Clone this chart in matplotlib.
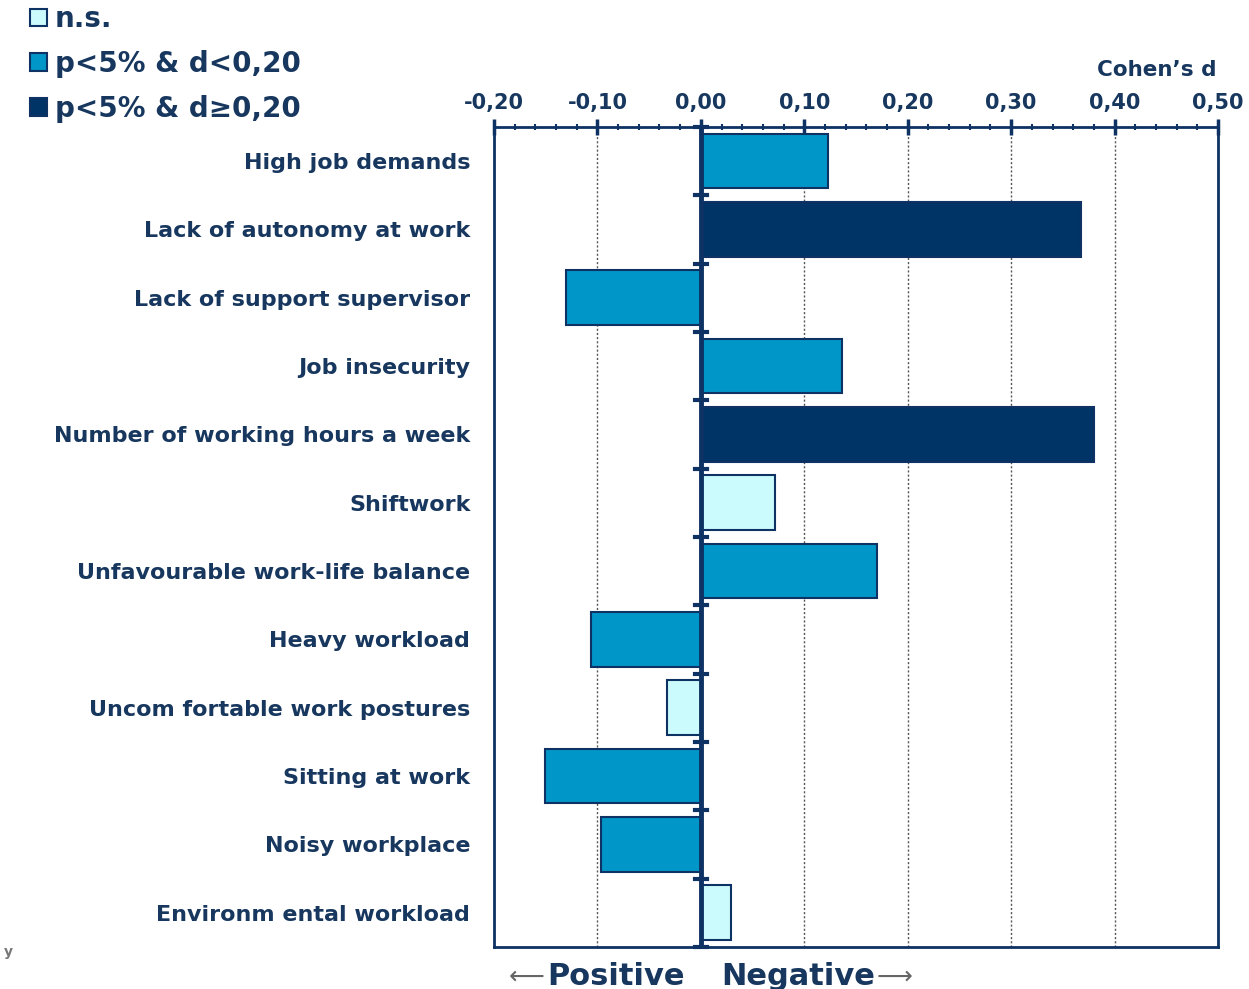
import matplotlib.pyplot as plt
from matplotlib.patches import Patch
from matplotlib.ticker import MultipleLocator, FuncFormatter

# ===== データ =====
categories = [
    "High job demands",
    "Lack of autonomy at work",
    "Lack of support supervisor",
    "Job insecurity",
    "Number of working hours a week",
    "Shiftwork",
    "Unfavourable work-life balance",
    "Heavy workload",
    "Uncom fortable work postures",
    "Sitting at work",
    "Noisy workplace",
    "Environm ental workload",
]
cohens_d = [0.123, 0.368, -0.130, 0.136, 0.380, 0.072, 0.170, -0.106, -0.033, -0.151, -0.097, 0.029]
# 0 = n.s., 1 = p<5% & d<0,20, 2 = p<5% & d>=0,20
significance = [1, 2, 1, 1, 2, 0, 1, 1, 0, 1, 1, 0]
legend_labels = ["n.s.", "p<5% & d<0,20", "p<5% & d≥0,20"]

# ===== 色 =====
navy = "#0d3263"
text_col = "#17375e"
fill_colors = ["#ccfbfd", "#0096c8", "#003366"]

plt.rcParams["font.family"] = ["DejaVu Sans"]
plt.rcParams["font.weight"] = "bold"

fig = plt.figure(figsize=(12.49, 9.89), dpi=100)
ax = fig.add_axes([0.3955, 0.0425, 0.5797, 0.8291])

y = list(range(len(categories)))
colors = [fill_colors[s] for s in significance]
ax.barh(y, cohens_d, height=0.8, color=colors, edgecolor=navy, linewidth=1.5, zorder=3)

ax.set_xlim(-0.20, 0.50)
ax.set_ylim(len(categories) - 0.5, -0.5)

# ===== 軸 =====
ax.xaxis.tick_top()
ax.xaxis.set_major_locator(MultipleLocator(0.1))
ax.xaxis.set_minor_locator(MultipleLocator(0.02))
ax.xaxis.set_major_formatter(FuncFormatter(lambda v, p: f"{v:.2f}".replace(".", ",").replace("-0,00", "0,00")))
ax.tick_params(axis="x", which="major", direction="inout", length=12, width=2.5,
               color=navy, labelsize=15, labelcolor=text_col, pad=4)
ax.tick_params(axis="x", which="minor", direction="inout", length=5, width=1.5, color=navy)
for lab in ax.get_xticklabels():
    lab.set_fontweight("bold")

ax.set_yticks(y)
ax.set_yticklabels(categories, fontsize=16, fontweight="bold", color=text_col)
ax.tick_params(axis="y", length=0, pad=17)

for side in ["top", "bottom", "left", "right"]:
    ax.spines[side].set_color(navy)
    ax.spines[side].set_linewidth(2)

ax.grid(axis="x", which="major", linestyle=(0, (1.5, 1.5)), color="#555555", linewidth=1, zorder=0)

# ゼロ線とカテゴリ境界の目盛り
ax.axvline(0, color=navy, linewidth=3.5, zorder=4)
for b in [i + 0.5 for i in y[:-1]] + [-0.5, len(categories) - 0.5]:
    ax.plot([-0.006, 0.006], [b, b], color=navy, linewidth=3, zorder=4, clip_on=False)

# ===== テキスト =====
fig.text(0.926, 0.929, "Cohen’s d", fontsize=15.5, fontweight="bold", color=text_col, ha="center", va="center")

fig.text(0.422, 0.013, "⟵", fontsize=18, fontweight="normal", color="#666666", ha="center", va="center")
fig.text(0.493, 0.013, "Positive", fontsize=22, fontweight="bold", color=text_col, ha="center", va="center")
fig.text(0.639, 0.013, "Negative", fontsize=22, fontweight="bold", color=text_col, ha="center", va="center")
fig.text(0.716, 0.013, "⟶", fontsize=18, fontweight="normal", color="#666666", ha="center", va="center")
fig.text(0.003, 0.037, "y", fontsize=10, fontweight="bold", color="#777777", ha="left", va="center")

# ===== 凡例 =====
handles = [Patch(facecolor=c, edgecolor=navy, linewidth=1.5) for c in fill_colors]
leg = fig.legend(handles, legend_labels, loc="upper left", bbox_to_anchor=(0.004, 1.02),
                 frameon=False, fontsize=20, handlelength=0.6, handleheight=0.6,
                 handletextpad=0.3, labelspacing=0.6)
for t in leg.get_texts():
    t.set_color(text_col)
    t.set_fontweight("bold")

plt.savefig("out.png", dpi=100)
plt.close()
